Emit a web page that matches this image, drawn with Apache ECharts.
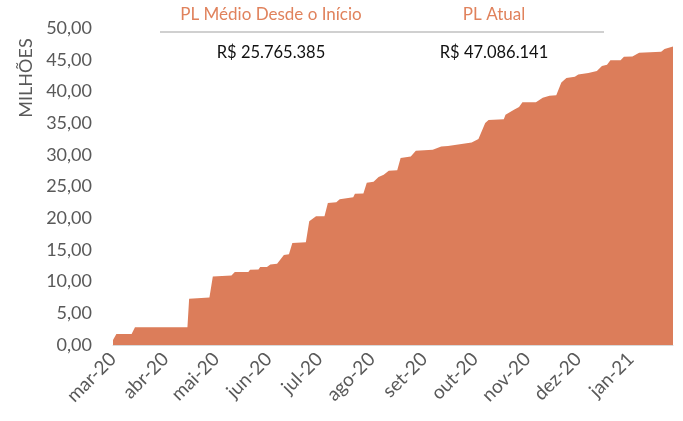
<!DOCTYPE html>
<html>
<head>
<meta charset="utf-8">
<script src="https://cdn.jsdelivr.net/npm/echarts@6/dist/echarts.min.js"></script>
<style>
  html, body { margin: 0; padding: 0; background: #fff; }
  #chart { width: 683px; height: 421px; }
</style>
</head>
<body>
<div id="chart"></div>
<script>
// ---- Data ----
const pointDates = [
  '2020-03-01','2020-03-02','2020-03-03','2020-03-12','2020-03-14','2020-04-14','2020-04-15',
  '2020-04-27','2020-04-29','2020-05-10','2020-05-12','2020-05-20','2020-05-21','2020-05-26',
  '2020-05-27','2020-05-31','2020-06-02','2020-06-06','2020-06-10','2020-06-13','2020-06-15',
  '2020-06-23','2020-06-25','2020-06-29','2020-07-04','2020-07-06','2020-07-11','2020-07-13',
  '2020-07-21','2020-07-22','2020-07-27','2020-07-29','2020-08-02','2020-08-05','2020-08-08',
  '2020-08-11','2020-08-16','2020-08-18','2020-08-24','2020-08-27','2020-09-06','2020-09-11',
  '2020-09-15','2020-09-16','2020-09-29','2020-10-03','2020-10-07','2020-10-09','2020-10-18',
  '2020-10-19','2020-10-24','2020-10-27','2020-10-29','2020-11-06','2020-11-10','2020-11-14',
  '2020-11-18','2020-11-21','2020-11-24','2020-11-29','2020-12-01','2020-12-07','2020-12-12',
  '2020-12-15','2020-12-18','2020-12-20','2020-12-26','2020-12-28','2021-01-02','2021-01-06',
  '2021-01-19','2021-01-21','2021-01-26'
];
const plValues = [
  0.8, 0.8, 1.74, 1.74, 2.8, 2.8, 7.3,
  7.5, 10.8, 10.95, 11.5, 11.5, 11.85, 11.9,
  12.3, 12.3, 12.7, 12.8, 14.2, 14.3, 16.1,
  16.2, 19.5, 20.3, 20.3, 22.4, 22.5, 23.0,
  23.3, 23.85, 23.9, 25.6, 25.75, 26.5, 26.85,
  27.5, 27.55, 29.5, 29.75, 30.65, 30.8, 31.3,
  31.4, 31.7, 31.95, 32.5, 35.0, 35.5, 35.6,
  36.3, 37.1, 37.55, 38.3, 38.3, 39.0, 39.3,
  39.4, 41.4, 42.1, 42.3, 42.65, 42.9, 43.2,
  44.0, 44.2, 44.9, 44.9, 45.45, 45.5, 46.1,
  46.25, 46.7, 47.09
];
const monthAbbr = ['jan','fev','mar','abr','mai','jun','jul','ago','set','out','nov','dez'];
const yTicks = { min: 0, max: 50, step: 5 };
const axisStart = '2020-03-01';
const axisEnd = '2021-01-26';
const yAxisName = 'MILHÕES';
const headerTitles = ['PL Médio Desde o Início', 'PL Atual'];
const headerValues = ['R$ 25.765.385', 'R$ 47.086.141'];

// ---- Chart ----
function parseLocal(s) {
  const p = s.split('-').map(Number);
  return new Date(p[0], p[1] - 1, p[2]).getTime();
}
const seriesData = pointDates.map((d, i) => [parseLocal(d), plValues[i]]);
const FONT = 'Lato';
const DAY = 86400000;

const chart = echarts.init(document.getElementById('chart'), null, { renderer: 'canvas' });
chart.setOption({
  animation: false,
  backgroundColor: '#ffffff',
  grid: { left: 113, right: 10, top: 28, bottom: 76, containLabel: false },
  xAxis: {
    type: 'time',
    min: parseLocal(axisStart),
    max: parseLocal(axisEnd),
    minInterval: 28 * DAY,
    maxInterval: 31 * DAY,
    splitNumber: 11,
    axisLine: { show: true, lineStyle: { color: '#D9D9D9', width: 1 } },
    axisTick: { show: false },
    splitLine: { show: false },
    axisLabel: {
      rotate: 45,
      margin: 11,
      color: '#595959',
      fontFamily: FONT,
      fontSize: 19,
      hideOverlap: false,
      showMaxLabel: false,
      formatter: function (v) {
        const d = new Date(v);
        if (d.getDate() !== 1) return '';
        return monthAbbr[d.getMonth()] + '-' + String(d.getFullYear()).slice(2);
      }
    }
  },
  yAxis: {
    type: 'value',
    min: yTicks.min,
    max: yTicks.max,
    interval: yTicks.step,
    axisLine: { show: false },
    axisTick: { show: false },
    splitLine: { show: false },
    axisLabel: {
      margin: 21,
      color: '#595959',
      fontFamily: FONT,
      fontSize: 18,
      formatter: v => v.toFixed(2).replace('.', ',')
    }
  },
  series: [{
    type: 'line',
    data: seriesData,
    symbol: 'none',
    lineStyle: { width: 0 },
    areaStyle: { color: '#DC7D5A', opacity: 1 },
    z: 2
  }],
  graphic: [
    { type: 'text', x: 26, y: 78, rotation: Math.PI / 2, style: { text: yAxisName, fill: '#595959', font: '18px ' + FONT, textAlign: 'center', textVerticalAlign: 'middle' } },
    { type: 'line', shape: { x1: 160, y1: 32, x2: 604, y2: 32 }, style: { stroke: '#D0D0D0', lineWidth: 2 } },
    { type: 'text', x: 271, y: 15, style: { text: headerTitles[0], fill: '#E0825C', font: '17px ' + FONT, textAlign: 'center', textVerticalAlign: 'middle' } },
    { type: 'text', x: 494, y: 15, style: { text: headerTitles[1], fill: '#E0825C', font: '17px ' + FONT, textAlign: 'center', textVerticalAlign: 'middle' } },
    { type: 'text', x: 271, y: 53, style: { text: headerValues[0], fill: '#111111', font: '16.5px ' + FONT, textAlign: 'center', textVerticalAlign: 'middle' } },
    { type: 'text', x: 494, y: 53, style: { text: headerValues[1], fill: '#111111', font: '16.5px ' + FONT, textAlign: 'center', textVerticalAlign: 'middle' } }
  ]
});
</script>
</body>
</html>
